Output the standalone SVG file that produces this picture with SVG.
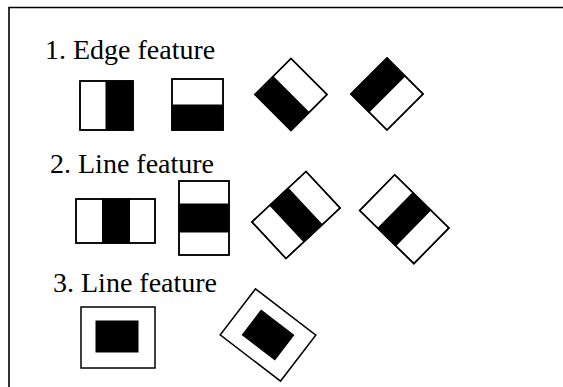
<svg xmlns="http://www.w3.org/2000/svg" width="563" height="387" viewBox="0 0 563 387">
<style>
.lbl{font-family:"Liberation Serif","Times New Roman",serif;font-size:28px;fill:#000}
.w{fill:#fff;stroke:#000;stroke-width:1.5}
.b{fill:#000;stroke:#000;stroke-width:1}
.o{fill:none;stroke:#000;stroke-width:1.5}
</style>
<rect width="563" height="387" fill="#fff"/>
<g id="frame"><path d="M9 387 V7.5 H563" fill="none" stroke="#000" stroke-width="1.6"/></g>
<g id="labels">
<text class="lbl" x="45" y="59">1. Edge feature</text>
<text class="lbl" x="50" y="173">2. Line feature</text>
<text class="lbl" x="53" y="292">3. Line feature</text>
</g>
<g id="edge1"><rect class="w" x="80" y="81" width="53" height="49"/><rect class="b" x="106" y="81" width="27" height="49"/><rect class="o" x="80" y="81" width="53" height="49"/></g>
<g id="edge2"><rect class="w" x="172" y="79" width="51" height="51"/><rect class="b" x="172" y="105" width="51" height="25"/><rect class="o" x="172" y="79" width="51" height="51"/></g>
<g id="edge3" transform="translate(291,94.5) rotate(45)"><rect class="w" x="-25.5" y="-25.5" width="51" height="51"/><rect class="b" x="-25.5" y="0" width="51" height="25.5"/><rect class="o" x="-25.5" y="-25.5" width="51" height="51"/></g>
<g id="edge4" transform="translate(387,94) rotate(45)"><rect class="w" x="-25.5" y="-25.5" width="51" height="51"/><rect class="b" x="-25.5" y="-25.5" width="25.5" height="51"/><rect class="o" x="-25.5" y="-25.5" width="51" height="51"/></g>
<g id="line1"><rect class="w" x="76" y="199" width="79" height="44"/><rect class="b" x="102.5" y="199" width="27" height="44"/><rect class="o" x="76" y="199" width="79" height="44"/></g>
<g id="line2"><rect class="w" x="179" y="181" width="50" height="74"/><rect class="b" x="179" y="204" width="50" height="28"/><rect class="o" x="179" y="181" width="50" height="74"/></g>
<g id="line3" transform="translate(296,215) rotate(-43)"><rect class="w" x="-37" y="-25" width="74" height="50"/><rect class="b" x="-12.5" y="-25" width="25" height="50"/><rect class="o" x="-37" y="-25" width="74" height="50"/></g>
<g id="line4" transform="translate(404.3,219.2) rotate(44.5)"><rect class="w" x="-38" y="-25" width="76" height="50"/><rect class="b" x="-12.5" y="-25" width="25" height="50"/><rect class="o" x="-38" y="-25" width="76" height="50"/></g>
<g id="center1"><rect class="w" x="81" y="307" width="74" height="61"/><rect class="b" x="96" y="321" width="42" height="31"/></g>
<g id="center2" transform="translate(268,335) rotate(37.5)"><rect class="w" x="-38" y="-29" width="76" height="58"/><rect class="b" x="-20.5" y="-15.5" width="41" height="31"/></g>
</svg>
